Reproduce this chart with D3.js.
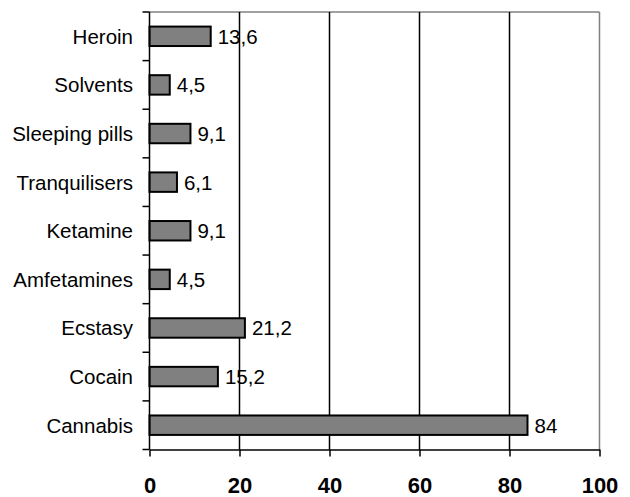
<!DOCTYPE html>
<html>
<head>
<meta charset="utf-8">
<script src="https://cdn.jsdelivr.net/npm/d3@7"></script>
<style>
  html, body { margin: 0; padding: 0; background: #fff; }
  svg { display: block; }
</style>
</head>
<body>
<div id="chart"></div>
<script>
const categories = ["Heroin", "Solvents", "Sleeping pills", "Tranquilisers", "Ketamine", "Amfetamines", "Ecstasy", "Cocain", "Cannabis"];
const values = [13.6, 4.5, 9.1, 6.1, 9.1, 4.5, 21.2, 15.2, 84];
const valueLabels = ["13,6", "4,5", "9,1", "6,1", "9,1", "4,5", "21,2", "15,2", "84"];
const xTicks = [0, 20, 40, 60, 80, 100];

(function () {
const W = 630, H = 497;
const pLeft = 149.5, pRight = 599.5, pTop = 12, pBottom = 449.5;
const font = "Liberation Sans, Arial, sans-serif";

const svg = d3.select("#chart").append("svg")
  .attr("width", W).attr("height", H);

const x = d3.scaleLinear().domain([0, 100]).range([pLeft, pRight]);
const y = d3.scaleBand().domain(categories).range([pTop, pBottom])
  .paddingInner(0.6).paddingOuter(0.3);
const step = y.step();

// plot frame: top and right grey
svg.append("line").attr("x1", pLeft).attr("x2", pRight).attr("y1", pTop).attr("y2", pTop)
  .attr("stroke", "#808080").attr("stroke-width", 1.5);
svg.append("line").attr("x1", pRight).attr("x2", pRight).attr("y1", pTop).attr("y2", pBottom)
  .attr("stroke", "#808080").attr("stroke-width", 1.5);

// vertical gridlines
svg.append("g").selectAll("line")
  .data(xTicks.filter(d => d > 0 && d < 100))
  .join("line")
  .attr("x1", d => x(d)).attr("x2", d => x(d))
  .attr("y1", pTop).attr("y2", pBottom)
  .attr("stroke", "#000").attr("stroke-width", 1.5);

// bars
svg.append("g").selectAll("rect")
  .data(values)
  .join("rect")
  .attr("x", x(0))
  .attr("y", (d, i) => y(categories[i]))
  .attr("width", d => x(d) - x(0))
  .attr("height", y.bandwidth())
  .attr("fill", "#808080")
  .attr("stroke", "#000")
  .attr("stroke-width", 2);

// value labels
svg.append("g").selectAll("text")
  .data(values)
  .join("text")
  .attr("x", d => x(d) + 7)
  .attr("y", (d, i) => y(categories[i]) + y.bandwidth() / 2)
  .attr("dy", "0.36em")
  .attr("font-family", font)
  .attr("font-size", 20.5)
  .attr("fill", "#000")
  .text((d, i) => valueLabels[i]);

// x axis
const xAxis = d3.axisBottom(x).tickValues(xTicks).tickSizeInner(7).tickSizeOuter(0).tickPadding(21)
  .tickFormat(d3.format("d"));
const gx = svg.append("g").attr("transform", `translate(0,${pBottom})`).call(xAxis);
gx.select(".domain").attr("stroke", "#000").attr("stroke-width", 1.5);
gx.selectAll(".tick line").attr("stroke", "#000").attr("stroke-width", 1.5);
gx.selectAll(".tick text")
  .attr("font-family", font)
  .attr("font-size", 22).attr("font-weight", "bold").attr("fill", "#000");

// y axis: line + ticks at band boundaries
const gy = svg.append("g");
gy.append("line").attr("x1", pLeft).attr("x2", pLeft).attr("y1", pTop).attr("y2", pBottom)
  .attr("stroke", "#000").attr("stroke-width", 1.5);
gy.selectAll("line.tk")
  .data(d3.range(categories.length + 1))
  .join("line").attr("class", "tk")
  .attr("x1", pLeft - 7).attr("x2", pLeft)
  .attr("y1", i => pTop + i * step).attr("y2", i => pTop + i * step)
  .attr("stroke", "#000").attr("stroke-width", 1.5);
gy.selectAll("text")
  .data(categories)
  .join("text")
  .attr("x", pLeft - 16.5)
  .attr("y", d => y(d) + y.bandwidth() / 2)
  .attr("dy", "0.36em")
  .attr("text-anchor", "end")
  .attr("font-family", font)
  .attr("font-size", 20.5)
  .attr("fill", "#000")
  .text(d => d);
})();
</script>
</body>
</html>
